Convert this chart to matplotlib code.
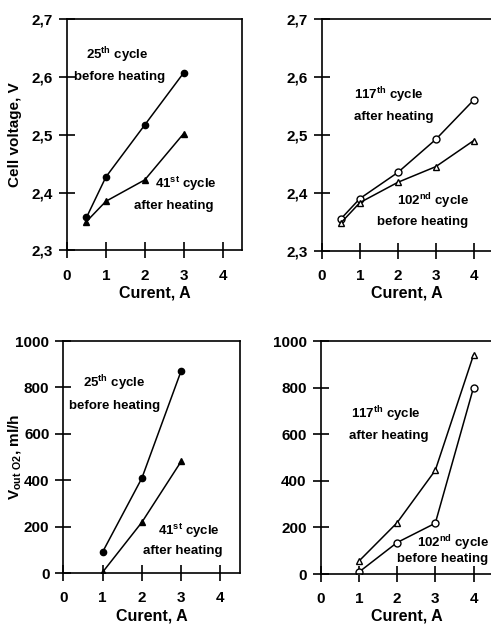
import matplotlib
matplotlib.use('Agg')
import matplotlib.pyplot as plt
from matplotlib.ticker import FuncFormatter

plt.rcParams['font.family'] = ['Liberation Sans', 'DejaVu Sans']
plt.rcParams['font.weight'] = 'bold'
plt.rcParams['mathtext.default'] = 'regular'

# top left: 25th cycle (before heating) and 41st cycle (after heating)
tl_x_circ = [0.5, 1, 2, 3]
tl_v_circ = [2.357, 2.427, 2.517, 2.607]
tl_x_tri = [0.5, 1, 2, 3]
tl_v_tri = [2.350, 2.385, 2.422, 2.502]

# top right: 117th cycle (after heating) and 102nd cycle (before heating)
tr_x_circ = [0.5, 1, 2, 3, 4]
tr_v_circ = [2.355, 2.390, 2.435, 2.492, 2.560]
tr_x_tri = [0.5, 1, 2, 3, 4]
tr_v_tri = [2.348, 2.383, 2.418, 2.445, 2.490]

# bottom left: O2 output
bl_x_circ = [1, 2, 3]
bl_o2_circ = [92, 410, 872]
bl_x_tri = [1, 2, 3]
bl_o2_tri = [5, 220, 482]

# bottom right
br_x_tri = [1, 2, 3, 4]
br_o2_tri = [55, 220, 445, 940]
br_x_circ = [1, 2, 3, 4]
br_o2_circ = [8, 135, 218, 800]

x_ticks = [0, 1, 2, 3, 4]
volt_ticks = [2.3, 2.4, 2.5, 2.6, 2.7]
o2_ticks = [0, 200, 400, 600, 800, 1000]


def comma_fmt(v, pos):
    return ('%.1f' % v).replace('.', ',')


def setup(ax, yticks, ylim, fmt=None):
    ax.set_xlim(0, 4.5)
    ax.set_ylim(*ylim)
    ax.set_xticks(x_ticks)
    ax.set_yticks(yticks)
    if fmt:
        ax.yaxis.set_major_formatter(FuncFormatter(fmt))
    for s in ax.spines.values():
        s.set_linewidth(1.2)
    ax.tick_params(direction='inout', length=12, width=1.2, labelsize=11)
    ax.tick_params(axis='x', pad=7)
    ax.tick_params(axis='y', pad=4)
    ax.set_xlabel('Curent, A', fontsize=11.5, fontweight='bold', labelpad=2)


def label(ax, x, y, s):
    ax.text(x, y, s, fontsize=9.5, fontweight='bold', ha='left', va='center')


fig = plt.figure(figsize=(4.91, 6.24), dpi=100)

# top left
ax = fig.add_axes([0.1365, 0.5986, 0.3564, 0.371])
setup(ax, volt_ticks, (2.3, 2.7), comma_fmt)
ax.plot(tl_x_circ, tl_v_circ, 'k-o', ms=4.5, lw=1.1)
ax.plot(tl_x_tri, tl_v_tri, 'k-^', ms=4.5, lw=1.1)
ax.set_ylabel('Cell voltage, V', fontsize=11, fontweight='bold')
ax.yaxis.set_label_coords(-0.257, 0.5)
label(ax, 0.49, 2.638, '25$^{th}$ cycle')
label(ax, 0.18, 2.600, 'before heating')
label(ax, 2.26, 2.415, '41$^{st}$ cycle')
label(ax, 1.72, 2.377, 'after heating')

# top right
ax = fig.add_axes([0.6558, 0.5983, 0.3475, 0.3713])
setup(ax, volt_ticks, (2.3, 2.7), comma_fmt)
ax.plot(tr_x_circ, tr_v_circ, 'k-o', ms=5, lw=1.1, mfc='white')
ax.plot(tr_x_tri, tr_v_tri, 'k-^', ms=5, lw=1.1, mfc='white')
label(ax, 0.85, 2.568, '117$^{th}$ cycle')
label(ax, 0.85, 2.531, 'after heating')
label(ax, 1.97, 2.386, '102$^{nd}$ cycle')
label(ax, 1.44, 2.349, 'before heating')

# bottom left
ax = fig.add_axes([0.129, 0.0812, 0.36, 0.3723])
setup(ax, o2_ticks, (0, 1000))
ax.plot(bl_x_circ, bl_o2_circ, 'k-o', ms=4.5, lw=1.1)
ax.plot(bl_x_tri, bl_o2_tri, 'k-^', ms=4.5, lw=1.1)
ax.set_ylabel(r'V$_{out\ O2}$, ml/h', fontsize=11, fontweight='bold')
ax.yaxis.set_label_coords(-0.228, 0.5)
label(ax, 0.49, 818, '25$^{th}$ cycle')
label(ax, 0.145, 721, 'before heating')
label(ax, 2.41, 182, '41$^{st}$ cycle')
label(ax, 2.04, 97, 'after heating')

# bottom right
ax = fig.add_axes([0.653, 0.0801, 0.3503, 0.3734])
setup(ax, o2_ticks, (0, 1000))
ax.plot(br_x_tri, br_o2_tri, 'k-^', ms=5, lw=1.1, mfc='white')
ax.plot(br_x_circ, br_o2_circ, 'k-o', ms=5, lw=1.1, mfc='white')
label(ax, 0.785, 687, '117$^{th}$ cycle')
label(ax, 0.75, 592, 'after heating')
label(ax, 2.51, 132, '102$^{nd}$ cycle')
label(ax, 1.99, 63, 'before heating')

fig.savefig('out.png', dpi=100)
